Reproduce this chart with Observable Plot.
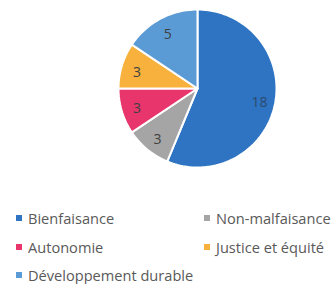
<!DOCTYPE html>
<html>
<head>
<meta charset="utf-8">
<script src="https://cdn.jsdelivr.net/npm/d3@7"></script>
<script src="https://cdn.jsdelivr.net/npm/@observablehq/plot@0.6"></script>
<style>
  html, body { margin: 0; padding: 0; background: #fff; }
  #wrap { position: relative; width: 336px; height: 284px; font-family: "Open Sans", sans-serif; }
  #wrap svg { display: block; }
  .leg { position: absolute; display: flex; align-items: center; font-size: 14.6px; color: #595959; white-space: nowrap; line-height: 1; }
  .sw { width: 6px; height: 6px; margin-right: 6px; }
</style>
</head>
<body>
<div id="wrap"></div>
<script>
const categories = ["Bienfaisance", "Non-malfaisance", "Autonomie", "Justice et équité", "Développement durable"];
const values = [18, 3, 3, 3, 5];
const colors = ["#2E74C2", "#A5A5A5", "#E8356C", "#F7B13C", "#5B9BD5"];
const labelColors = ["#2c4a6e", "#404040", "#404040", "#404040", "#404040"];

const arcs = d3.pie().sort(null).value(d => d)(values);

// polygon points for each slice (derived from pie angles)
const poly = [];
arcs.forEach((a, i) => {
  const n = Math.max(4, Math.ceil((a.endAngle - a.startAngle) / (Math.PI / 90)));
  poly.push({cat: categories[i], x: 0, y: 0});
  for (let k = 0; k <= n; k++) {
    const t = a.startAngle + (a.endAngle - a.startAngle) * k / n;
    poly.push({cat: categories[i], x: Math.sin(t), y: Math.cos(t)});
  }
  poly.push({cat: categories[i], x: 0, y: 0});
});

const labels = arcs.map((a, i) => {
  const m = (a.startAngle + a.endAngle) / 2;
  const r = 0.8;
  return {cat: categories[i], v: values[i], x: r * Math.sin(m), y: r * Math.cos(m), c: labelColors[i]};
});

const chart = Plot.plot({
  width: 336,
  height: 190,
  marginLeft: 118,
  marginRight: 60,
  marginTop: 9,
  marginBottom: 23,
  x: {domain: [-1, 1], axis: null},
  y: {domain: [-1, 1], axis: null},
  color: {domain: categories, range: colors},
  style: {fontFamily: "Open Sans, sans-serif"},
  marks: [
    Plot.line(poly, {x: "x", y: "y", z: "cat", fill: "cat", stroke: "#fff", strokeWidth: 2, strokeLinejoin: "round"}),
    Plot.text(labels, {x: "x", y: "y", text: d => String(d.v), fill: d => d.c, fontSize: 14, dy: 2})
  ]
});
const wrap = document.getElementById("wrap");
wrap.appendChild(chart);

const legPos = [[16, 218], [204, 218], [16, 247], [204, 247], [16, 275]];
categories.forEach((c, i) => {
  const d = document.createElement("div");
  d.className = "leg";
  d.style.left = legPos[i][0] + "px";
  d.style.top = (legPos[i][1] - 8) + "px";
  d.style.height = "16px";
  const s = document.createElement("span");
  s.className = "sw";
  s.style.background = colors[i];
  d.appendChild(s);
  d.appendChild(document.createTextNode(c));
  wrap.appendChild(d);
});
</script>
</body>
</html>
